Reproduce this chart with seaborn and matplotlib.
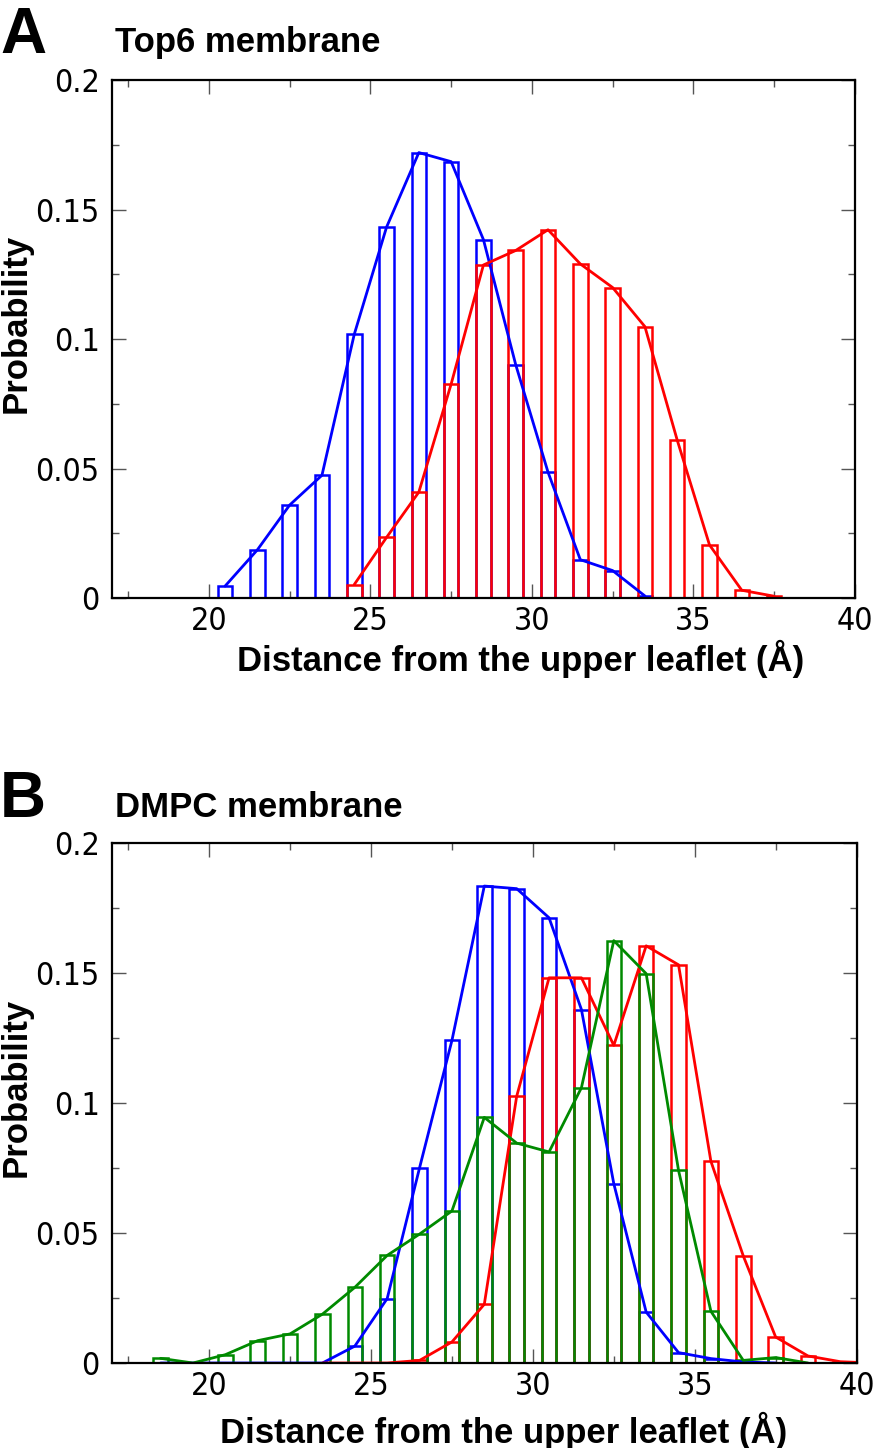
import os
import numpy as np
import seaborn as sns
import matplotlib
matplotlib.use("Agg")
from matplotlib import pyplot as plt
from matplotlib import font_manager
from matplotlib.ticker import MultipleLocator

# panel A - Top6 membrane (bin centres in Angstrom, probability per bin)
top6_blue_x = [20.5, 21.5, 22.5, 23.5, 24.5, 25.5, 26.5, 27.5, 28.5, 29.5, 30.5, 31.5, 32.5, 33.5]
top6_blue_p = [0.0046, 0.0186, 0.0359, 0.0474, 0.1018, 0.1432, 0.1720, 0.1685, 0.1384, 0.0901,
               0.0486, 0.0148, 0.0106, 0.0008]
top6_red_x = [24.5, 25.5, 26.5, 27.5, 28.5, 29.5, 30.5, 31.5, 32.5, 33.5, 34.5, 35.5, 36.5, 37.5]
top6_red_p = [0.0052, 0.0234, 0.0409, 0.0826, 0.1286, 0.1342, 0.1422, 0.1290, 0.1199, 0.1048,
              0.0610, 0.0205, 0.0030, 0.0007]

# panel B - DMPC membrane
dmpc_blue_x = [18.5, 19.5, 20.5, 21.5, 22.5, 23.5, 24.5, 25.5, 26.5, 27.5, 28.5, 29.5, 30.5, 31.5,
               32.5, 33.5, 34.5, 35.5, 36.5, 37.5]
dmpc_blue_p = [0.0, 0.0, 0.0, 0.0, 0.0, 0.0, 0.0065, 0.0248, 0.0751, 0.1241, 0.1835, 0.1825, 0.1713,
               0.1360, 0.0690, 0.0196, 0.0040, 0.0017, 0.0004, 0.0]
dmpc_red_x = [23.5, 24.5, 25.5, 26.5, 27.5, 28.5, 29.5, 30.5, 31.5, 32.5, 33.5, 34.5, 35.5, 36.5,
              37.5, 38.5, 39.5, 40.5]
dmpc_red_p = [0.0, 0.0, 0.0, 0.0010, 0.0081, 0.0226, 0.1026, 0.1482, 0.1482, 0.1222, 0.1605, 0.1532,
              0.0776, 0.0412, 0.0100, 0.0027, 0.0005, 0.0]
dmpc_green_x = [18.5, 19.5, 20.5, 21.5, 22.5, 23.5, 24.5, 25.5, 26.5, 27.5, 28.5, 29.5, 30.5, 31.5,
                32.5, 33.5, 34.5, 35.5, 36.5, 37.5, 38.5]
dmpc_green_p = [0.0018, 0.0, 0.0032, 0.0086, 0.0112, 0.0188, 0.0291, 0.0414, 0.0496, 0.0585, 0.0945,
                0.0846, 0.0812, 0.1059, 0.1625, 0.1498, 0.0741, 0.0199, 0.0010, 0.0021, 0.0]

y_ticks = [0, 0.05, 0.1, 0.15, 0.2]
y_ticklabels = ['0', '0.05', '0.1', '0.15', '0.2']
x_ticks = [20, 25, 30, 35, 40]

sns.set_style('ticks')
plt.rcParams['font.family'] = ['Liberation Sans', 'DejaVu Sans']
plt.rcParams['text.color'] = 'black'
plt.rcParams['axes.labelcolor'] = 'black'

# tick numbers in the reference use a narrow face; take one if the system has it
tick_prop = font_manager.FontProperties(family=['Liberation Sans', 'DejaVu Sans'], size=22)
for f in font_manager.fontManager.ttflist:
    base = os.path.basename(f.fname)
    if base in ('LiberationSansNarrow-Regular.ttf', 'DejaVuSansCondensed.ttf'):
        tick_prop = font_manager.FontProperties(fname=f.fname, size=23)
        break

BLUE, RED, GREEN = '#0000ff', '#ff0000', '#008a00'


def draw_series(ax, xs, ps, color):
    xs = np.asarray(xs)
    # outlined bars, one per 1 A bin
    sns.histplot(x=xs, weights=ps, binwidth=1, binrange=(xs.min() - 0.5, xs.max() + 0.5),
                 shrink=0.45, fill=False, color=color, linewidth=1.8, ax=ax)
    sns.lineplot(x=xs, y=ps, color=color, linewidth=2.0, ax=ax)


def style_axes(ax, xlabel_x, xlabel_y):
    ax.set_xlim(17, 40)
    ax.set_ylim(0, 0.2)
    ax.set_xticks(x_ticks)
    ax.xaxis.set_minor_locator(MultipleLocator(2.5))
    ax.set_yticks(y_ticks)
    ax.set_yticklabels(y_ticklabels)
    ax.yaxis.set_minor_locator(MultipleLocator(0.025))
    ax.tick_params(which='both', direction='in', top=True, right=True, colors='#555555',
                   labelcolor='black', width=1.0)
    ax.tick_params(which='major', length=10)
    ax.tick_params(which='minor', length=5)
    ax.tick_params(axis='x', pad=6)
    ax.tick_params(axis='y', pad=9)
    for lab in ax.get_xticklabels() + ax.get_yticklabels():
        lab.set_fontproperties(tick_prop)
    for sp in ax.spines.values():
        sp.set_linewidth(1.6)
        sp.set_color('black')
    ax.set_xlabel('Distance from the upper leaflet (Å)', fontsize=25, fontweight='bold')
    ax.xaxis.set_label_coords(xlabel_x, xlabel_y)
    ax.set_ylabel('Probability', fontsize=25, fontweight='bold')
    ax.yaxis.set_label_coords(-0.129, 0.53)
    ax.yaxis.label.set_va('center')


fig = plt.figure(figsize=(8.78, 14.48), dpi=100)
ax_a = fig.add_axes([0.1276, 0.587, 0.846, 0.3577])
ax_b = fig.add_axes([0.1276, 0.0587, 0.848, 0.359])

draw_series(ax_a, top6_blue_x, top6_blue_p, BLUE)
draw_series(ax_a, top6_red_x, top6_red_p, RED)
style_axes(ax_a, 0.55, -0.08)

draw_series(ax_b, dmpc_blue_x, dmpc_blue_p, BLUE)
draw_series(ax_b, dmpc_red_x, dmpc_red_p, RED)
draw_series(ax_b, dmpc_green_x, dmpc_green_p, GREEN)
style_axes(ax_b, 0.526, -0.094)

# panel letters and titles
fig.text(0.0, 1 - 53 / 1448, 'A', fontsize=46, fontweight='bold', va='baseline')
fig.text(115 / 878, 1 - 52 / 1448, 'Top6 membrane', fontsize=25, fontweight='bold', va='baseline')
fig.text(0.0, 1 - 817 / 1448, 'B', fontsize=46, fontweight='bold', va='baseline')
fig.text(115 / 878, 1 - 817 / 1448, 'DMPC membrane', fontsize=25, fontweight='bold', va='baseline')

fig.savefig('out.png', dpi=100)
